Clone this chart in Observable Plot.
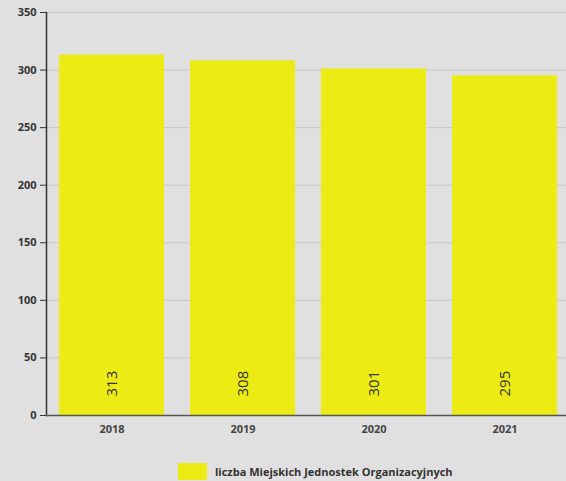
<!DOCTYPE html>
<html>
<head>
<meta charset="utf-8">
<script src="https://cdn.jsdelivr.net/npm/d3@7"></script>
<script src="https://cdn.jsdelivr.net/npm/@observablehq/plot@0.6"></script>
<style>
  html, body { margin: 0; padding: 0; background: #e0e0e0; overflow: hidden; width: 566px; height: 481px; }
  #chart { width: 570px; }
  .legend { display: flex; align-items: center; margin-left: 178px; margin-top: 18px; font-family: "Open Sans", sans-serif; font-weight: bold; font-size: 11px; color: #333; }
  .legend .sw { width: 29px; height: 17px; background: #ecec14; margin-right: 8px; }
</style>
</head>
<body>
<div id="chart"></div>
<script>
const years = ["2018", "2019", "2020", "2021"];
const values = [313, 308, 301, 295];
const yTicks = [0, 50, 100, 150, 200, 250, 300, 350];
const seriesName = "liczba Miejskich Jednostek Organizacyjnych";

const data = years.map((y, i) => ({year: y, value: values[i]}));

const plot = Plot.plot({
  width: 570,
  height: 445,
  marginTop: 12,
  marginLeft: 46,
  marginRight: 0,
  marginBottom: 30,
  style: {background: "transparent", fontFamily: "Open Sans, sans-serif", fontSize: "11px", color: "#333"},
  x: {domain: years, paddingInner: 0.2, paddingOuter: 0.1, label: null},
  y: {domain: [0, 350], label: null},
  marks: [
    Plot.gridY(yTicks, {stroke: "#c8c8c8", strokeOpacity: 1}),
    Plot.barY(data, {x: "year", y: "value", fill: "#ecec14"}),
    Plot.text(data, {x: "year", y: 0, text: d => String(d.value), rotate: -90, textAnchor: "start", dy: -19, fontSize: 15, fill: "#333"}),
    Plot.axisY(yTicks, {tickSize: 6, tickPadding: 4, fontWeight: "bold", fill: "#333", stroke: "#333"}),
    Plot.axisX({tickSize: 0, tickPadding: 10, fontWeight: "bold", fill: "#444"}),
    Plot.frame({anchor: "left", stroke: "#333", strokeWidth: 1.5}),
    Plot.ruleY([0], {stroke: "#555", strokeWidth: 1.5})
  ]
});
document.getElementById("chart").appendChild(plot);

const legend = document.createElement("div");
legend.className = "legend";
legend.innerHTML = `<div class="sw"></div><span></span>`;
legend.querySelector("span").textContent = seriesName;
document.body.appendChild(legend);
</script>
</body>
</html>
